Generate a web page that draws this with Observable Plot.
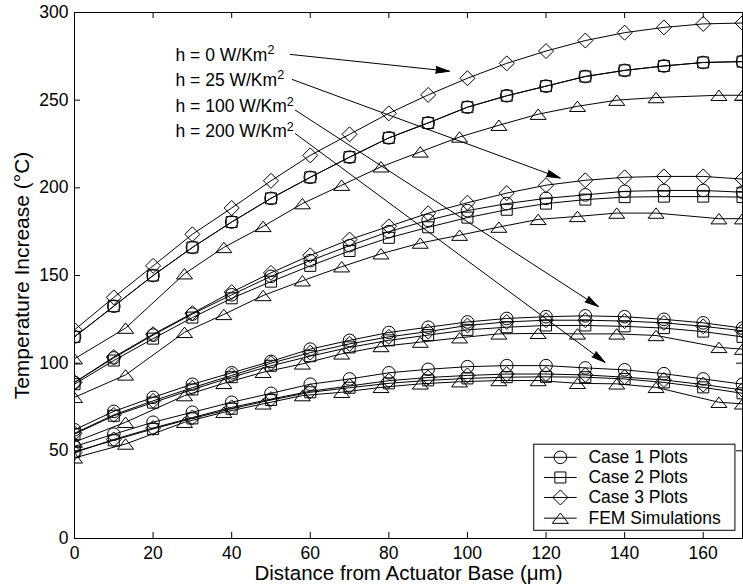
<!DOCTYPE html>
<html><head><meta charset="utf-8">
<script src="https://cdn.jsdelivr.net/npm/d3@7"></script>
<script src="https://cdn.jsdelivr.net/npm/@observablehq/plot@0.6"></script>
<style>body{margin:0;background:#fff}</style>
</head><body><div id="chart"></div>
<script>
// ---------- data ----------
const xCase = [0,10,20,30,40,50,60,70,80,90,100,110,120,130,140,150,160,170];
const xFem  = [0,13,28,38,48,58,68,78,88,98,108,118,128,138,148,164,170];
const xTicks = [0,20,40,60,80,100,120,140,160];
const yTicks = [0,50,100,150,200,250,300];
const seriesNames = ["Case 1 Plots","Case 2 Plots","Case 3 Plots","FEM Simulations"];
const hLabels = ["h = 0 W/Km²","h = 25 W/Km²","h = 100 W/Km²","h = 200 W/Km²"];

const case1_h0 = [115,132.5,150,166,180.5,194,206,217.5,228.5,237,246,252.5,258,263.5,267,269.5,271.5,272];
const case2_h0 = [115,132.5,150,166,180.5,194,206,217.5,228.5,237,246,252.5,258,263.5,267,269.5,271.5,272];
const case3_h0 = [119,137.5,155.5,173.5,188.5,204,218.5,230.5,242.5,253,262.5,271,278,284,288.5,291.5,293.5,294];
const fem_h0   = [102.5,120,151,166,178,191,201.5,212,220.5,229,235.7,242,246.5,250,251.5,252.8,252.8];

const case1_h25 = [89,103,116,128,139,149.5,158.5,167,175,181.5,187,191,194,196,198,198.5,198.5,197.5];
const case2_h25 = [88,101.5,114,126,137,146.5,155.5,164,171.5,177.5,183,187.5,191,193.3,194.7,195,195,194.7];
const case3_h25 = [89,103.5,116.5,128.5,140.5,151.5,161.5,170.5,178,185.5,191.5,197,201.5,204.3,206,206.5,206.5,205];
const fem_h25   = [80.5,93.3,117.6,127.8,138.6,147,155,162.4,168.5,173,177.6,182,183.7,185.6,185.6,182.4,182.4];

const case1_h100 = [62,72.5,80.5,88,94.5,101,108,113,117.5,120.5,123.5,125.5,126.5,127,126.5,125,123,120];
const case2_h100 = [59.5,70,77.5,85,92,98.5,104,109,113,116,119,120.5,121.5,121.5,121,120,118,115];
const case3_h100 = [60,70.5,78.5,86,93,100,106,111,115,118,121.5,123.5,124.5,124.5,124,123,121,118.5];
const fem_h100   = [55,66.3,81.5,88.5,94.8,99.6,105.3,109.5,112,114.5,116.7,117,116.7,116.7,115.8,109,108];

const case1_h200 = [52.5,59.5,66.3,72,77.7,82.8,88,91,94.5,96.5,98,98.6,98.6,97.3,96.2,94,91,88];
const case2_h200 = [49.5,56,62.5,68.5,74,79,83.4,86,88.5,90.2,91.3,92,92.2,92,91,89,86.2,82.8];
const case3_h200 = [49,56.5,63,69,74.8,79.5,84,87,90,91.8,93,93.8,93.8,93.3,92,90.4,87.8,84.7];
const fem_h200   = [46,53.9,66.3,72,76.8,81.5,83.4,86.2,88.2,89.4,90.1,90.1,88.5,88.2,86.2,77.7,76.8];

// annotation anchors (data units)
const annX = 25.7;
const annY = [275.7, 261.4, 246.5, 232.2];
const arrowX1 = [54.9, 55.4, 56.2, 56.2];
const arrowY1 = [276.1, 261.8, 244.3, 230.9];
const arrowX2 = [95.4, 123.6, 133.3, 135];
const arrowY2 = [266.5, 205.6, 132.3, 100.5];

// legend placement (data units)
const legBox = {x1: 117, x2: 168.2, y1: 4.4, y2: 53.5};
const legLineX = [119.5, 127.8];
const legTextX = 130.8;
const legY = [46.3, 34.8, 23.4, 11.6];

// ---------- layout ----------
const W = 743, H = 587, mL = 74, mR = 1, mT = 12, mB = 49;
const plotW = W - mL - mR, plotH = H - mT - mB, tickLen = 6;

// ---------- build table ----------
const groups = [
  {h: "0", s: [case1_h0, case2_h0, case3_h0, fem_h0]},
  {h: "25", s: [case1_h25, case2_h25, case3_h25, fem_h25]},
  {h: "100", s: [case1_h100, case2_h100, case3_h100, fem_h100]},
  {h: "200", s: [case1_h200, case2_h200, case3_h200, fem_h200]}
];
const rows = [];
for (const g of groups) {
  g.s.forEach((ys, si) => {
    const xs = si === 3 ? xFem : xCase;
    xs.forEach((x, i) => rows.push({h: g.h, s: seriesNames[si], x, y: ys[i], key: g.h + "|" + si}));
  });
}

// ---------- symbols ----------
const rad = size => Math.sqrt(size / Math.PI);
const symSquare = {draw(c, size) { const r = rad(size); c.moveTo(-r,-r); c.lineTo(r,-r); c.lineTo(r,r); c.lineTo(-r,r); c.closePath(); }};
const symDiamond = {draw(c, size) { const r = rad(size); c.moveTo(0,-r); c.lineTo(r,0); c.lineTo(0,r); c.lineTo(-r,0); c.closePath(); }};
const symTri = {draw(c, size) { const r = rad(size); const h = r * 1.3; c.moveTo(0,-h/2); c.lineTo(r,h/2); c.lineTo(-r,h/2); c.closePath(); }};
const markSym = ["circle", symSquare, symDiamond, symTri];
const markR = [6.3, 5.5, 7.5, 8];

const annRows = hLabels.map((t, i) => ({t, x: annX, y: annY[i], x1: arrowX1[i], y1: arrowY1[i], x2: arrowX2[i], y2: arrowY2[i]}));
const legRows = seriesNames.map((s, i) => ({s, i, y: legY[i], lx1: legLineX[0], lx2: legLineX[1], mx: (legLineX[0] + legLineX[1]) / 2, tx: legTextX}));

const marks = [
  Plot.line(rows, {x: "x", y: "y", z: "key", stroke: "black", strokeWidth: 1, clip: true}),
  ...seriesNames.map((s, i) => Plot.dot(rows.filter(d => d.s === s), {x: "x", y: "y", symbol: markSym[i], r: markR[i], stroke: "black", fill: "none", strokeWidth: 1, clip: true})),
  Plot.arrow(annRows, {x1: "x1", y1: "y1", x2: "x2", y2: "y2", stroke: "black", strokeWidth: 1, fill: "black", headLength: 21, headAngle: 28}),
  Plot.text(annRows, {x: "x", y: "y", text: "t", textAnchor: "start", fontSize: 17.5, className: "hlabel"}),
  // legend
  Plot.rect([legBox], {x1: "x1", x2: "x2", y1: "y1", y2: "y2", fill: "white", stroke: "black", strokeWidth: 1}),
  Plot.link(legRows, {x1: "lx1", x2: "lx2", y1: "y", y2: "y", stroke: "black", strokeWidth: 1}),
  ...seriesNames.map((s, i) => Plot.dot(legRows.filter(d => d.i === i), {x: "mx", y: "y", symbol: markSym[i], r: markR[i], stroke: "black", fill: "none", strokeWidth: 1})),
  Plot.text(legRows, {x: "tx", y: "y", text: "s", textAnchor: "start", fontSize: 17.5}),
  // inward ticks on all four sides
  Plot.ruleX(xTicks, {x: d => d, insetTop: plotH - tickLen, stroke: "black", strokeWidth: 1}),
  Plot.ruleX(xTicks, {x: d => d, insetBottom: plotH - tickLen, stroke: "black", strokeWidth: 1}),
  Plot.ruleY(yTicks, {y: d => d, insetRight: plotW - tickLen, stroke: "black", strokeWidth: 1}),
  Plot.ruleY(yTicks, {y: d => d, insetLeft: plotW - tickLen, stroke: "black", strokeWidth: 1}),
  // tick labels
  Plot.axisX(xTicks, {anchor: "bottom", tickSize: 0, tickPadding: 8, label: null}),
  Plot.axisY(yTicks, {anchor: "left", tickSize: 0, tickPadding: 6, label: null}),
  Plot.frame({stroke: "black", strokeWidth: 1}),
  Plot.text(["Distance from Actuator Base (μm)"], {text: d => d, frameAnchor: "bottom", textAnchor: "middle", dy: 41.8, fontSize: 20.5}),
  Plot.text(["Temperature Increase (°C)"], {text: d => d, frameAnchor: "left", textAnchor: "middle", rotate: -90, dx: -52.6, fontSize: 21})
];

const chart = Plot.plot({
  width: W, height: H,
  marginLeft: mL, marginRight: mR, marginTop: mT, marginBottom: mB,
  x: {domain: [0, 170]},
  y: {domain: [0, 300]},
  style: {fontFamily: "'Liberation Sans', Arial, Helvetica, sans-serif", fontSize: "17.5px", background: "white", color: "black", overflow: "visible"},
  marks
});

// render the superscript "2" of the h labels as a raised, smaller digit
d3.select(chart).selectAll("g.hlabel text").each(function () {
  const t = this.textContent;
  if (t.endsWith("²")) {
    const sel = d3.select(this);
    sel.text(t.slice(0, -1));
    sel.append("tspan").attr("dy", "-0.5em").attr("font-size", "0.72em").text("2");
  }
});
document.getElementById("chart").appendChild(chart);
</script></body></html>
